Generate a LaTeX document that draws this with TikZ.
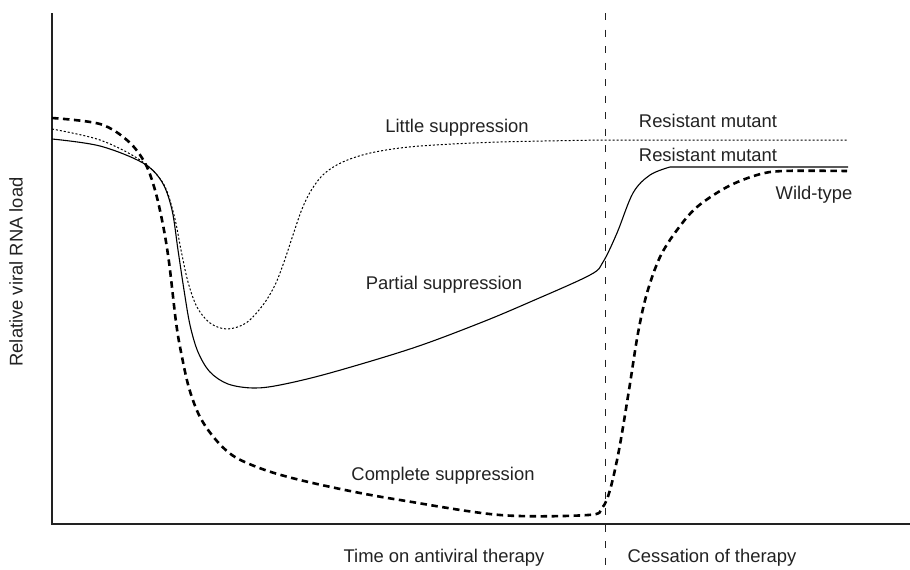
\documentclass[tikz,border=0pt]{standalone}
\usepackage{fontspec}
\setmainfont{Liberation Sans}
\definecolor{ink}{HTML}{222222}
\begin{document}
\begin{tikzpicture}[x=1pt,y=-1pt,
  lbl/.style={text=ink,font=\fontsize{18.4}{22}\selectfont,inner sep=0pt},
  axisline/.style={ink,line width=1.2pt},
  sep/.style={ink,line width=1pt,dash pattern=on 7pt off 9.5pt},
  solidcurve/.style={black,line width=1.1pt},
  dotcurve/.style={black,line width=1pt,dash pattern=on 2pt off 2pt},
  thickcurve/.style={black,line width=2.6pt,dash pattern=on 6.5pt off 4.5pt}]
\useasboundingbox (0,0) rectangle (910,570);
% axes
\coordinate (ytop) at (52,13);
\coordinate (orig) at (52,524);
\coordinate (xend) at (910,524);
\draw[axisline] (ytop) -- (orig) -- (xend);
% therapy cessation line
\coordinate (vtop) at (605,13);
\coordinate (vbot) at (605,570);
\draw[sep] (vtop) -- (vbot);
% little suppression (dotted)
\draw[dotcurve] plot[smooth,tension=0.55] coordinates {(52,129) (100,140) (140,160) (163,183) (174,215) (181,250) (188,282) (197,307) (210,323) (227,329) (246,323) (263,305) (275,285) (284,262) (293,235) (302,209) (312,189) (325,173) (345,161) (375,152) (420,146) (500,142) (605,140)} -- (848,140);
% partial suppression (solid)
\draw[solidcurve] plot[smooth,tension=0.55] coordinates {(52,139) (100,146) (143,163) (162,182) (172,210) (178,250) (184,290) (190,325) (198,352) (210,372) (228,384) (253,388) (280,385) (330,373) (413,348) (480,323) (530,302) (590,275) (603,262) (617,233) (633,193) (650,175) (670,167)} -- (848,167);
% complete suppression (thick dashed)
\draw[thickcurve] plot[smooth,tension=0.55] coordinates {(52,118) (100,124) (128,141) (145,163) (155,190) (163,225) (169,262) (176,322) (181,352) (189,388) (200,417) (216,440) (235,457) (265,470) (300,480) (350,491) (400,500) (500,515) (588,515) (602,508) (610,490) (619,450) (629,390) (638,333) (647,293) (660,257) (677,230) (697,207) (727,187) (757,175) (783,171) (847,171)};
% labels
\node[lbl] (little) at (457,128) {Little suppression};
\node[lbl] (res1) at (708,121) {Resistant mutant};
\node[lbl] (res2) at (708,155) {Resistant mutant};
\node[lbl] (wild) at (814,195) {Wild-type};
\node[lbl] (partial) at (444,285) {Partial suppression};
\node[lbl] (complete) at (443,476) {Complete suppression};
\node[lbl] (time) at (444,558) {Time on antiviral therapy};
\node[lbl] (cess) at (712,558) {Cessation of therapy};
\node[lbl,rotate=90] (ylab) at (16,272) {Relative viral RNA load};
\end{tikzpicture}
\end{document}
